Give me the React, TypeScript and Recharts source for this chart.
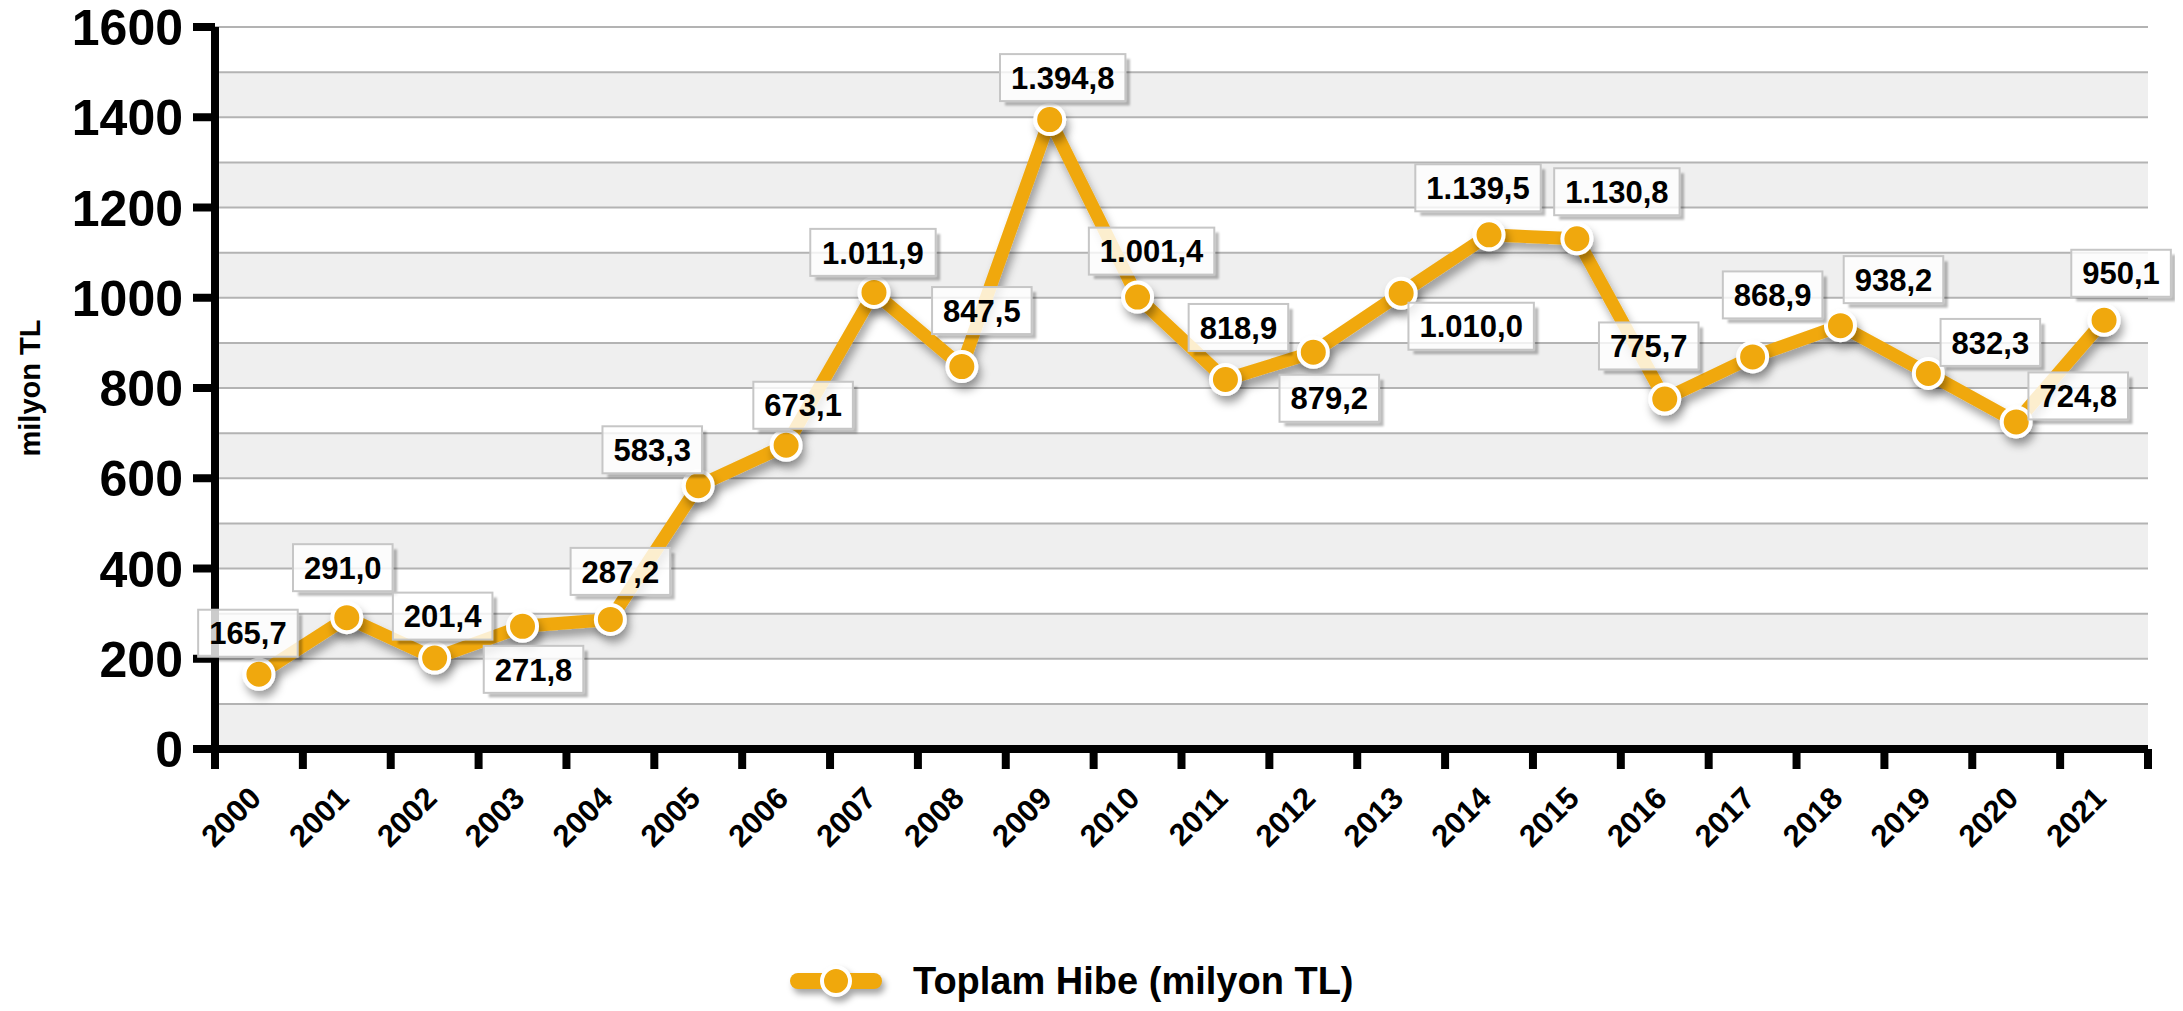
import React from 'react';
import { LineChart, Line, XAxis, YAxis, CartesianGrid, LabelList, Legend } from 'recharts';

const years = ['2000', '2001', '2002', '2003', '2004', '2005', '2006', '2007', '2008', '2009', '2010', '2011', '2012', '2013', '2014', '2015', '2016', '2017', '2018', '2019', '2020', '2021'];
const values = [165.7, 291.0, 201.4, 271.8, 287.2, 583.3, 673.1, 1011.9, 847.5, 1394.8, 1001.4, 818.9, 879.2, 1010.0, 1139.5, 1130.8, 775.7, 868.9, 938.2, 832.3, 724.8, 950.1];
const yTicks = [0, 100, 200, 300, 400, 500, 600, 700, 800, 900, 1000, 1100, 1200, 1300, 1400, 1500, 1600];
const yLabelledTicks = [0, 200, 400, 600, 800, 1000, 1200, 1400, 1600];
const seriesName = 'Toplam Hibe (milyon TL)';
const yAxisTitle = 'milyon TL';

// label box placement relative to its point (layout config, not data)
const labelOffsets: [number, number][] = [
  [-11, -41], [-4, -50], [8, -42], [11, 43], [10, -48], [-46, -36], [17, -40], [-1, -40],
  [20, -56], [13, -42], [14, -46], [13, -52], [16, 46], [70, 33], [-11, -47], [40, -47],
  [-16, -53], [20, -62], [53, -46], [62, -31], [62, -26], [17, -47],
];

const ORANGE = '#F0A80C';
const FONT = '"Liberation Sans", Arial, Helvetica, sans-serif';
const LABEL_SIZE = 31;

const data = years.map((y, i) => ({ year: y, pos: i + 0.5, value: values[i] }));
const boundaryTicks = [...years.map((_, i) => i), years.length];
const centerTicks = years.map((_, i) => i + 0.5);

function fmt(v: number): string {
  const [i, d] = v.toFixed(1).split('.');
  return i.replace(/\B(?=(\d{3})+(?!\d))/g, '.') + ',' + d;
}

function textWidth(s: string, size: number): number {
  let w = 0;
  for (const c of s) w += c === '.' || c === ',' ? 0.278 : 0.556;
  return w * size;
}

const EmptyTick = () => <g />;

const YearTick = (props: any) => {
  const { x, y, payload } = props;
  const ax = x + 4;
  const ay = y + 31;
  return (
    <text x={ax} y={ay} transform={`rotate(-45 ${ax} ${ay})`} textAnchor="end" fontSize={31} fontWeight="bold" fontFamily={FONT} fill="#000">
      {years[Math.floor(payload.value)]}
    </text>
  );
};

const YTick = (props: any) => {
  const { x, y, payload } = props;
  if (!yLabelledTicks.includes(payload.value)) return <g />;
  return (
    <g>
      <line x1={x - 22} x2={x} y1={y} y2={y} stroke="#000" strokeWidth={8} />
      <text x={x - 32} y={y} dy="0.36em" textAnchor="end" fontSize={50} fontWeight="bold" fontFamily={FONT} fill="#000">
        {payload.value}
      </text>
    </g>
  );
};

const DataLabel = (props: any) => {
  const { x, y, value, index } = props;
  if (x == null || y == null) return null;
  const [dx, dy] = labelOffsets[index] || [0, -45];
  const text = fmt(Number(value));
  const w = textWidth(text, LABEL_SIZE) + 22;
  const h = 47;
  const cx = x + dx;
  const cy = y + dy;
  const left = cx - w / 2;
  const top = cy - h / 2;
  return (
    <g>
      <polyline
        points={`${left + w + 2.5},${top + 5} ${left + w + 2.5},${top + h + 2.5} ${left + 5},${top + h + 2.5}`}
        fill="none" stroke="#000" strokeOpacity={0.28} strokeWidth={4} filter="url(#softBlur)"
      />
      <rect x={left} y={top} width={w} height={h} fill="#fff" fillOpacity={0.8} stroke="#c6c6c6" strokeWidth={2} />
      <text x={cx} y={cy} dy="0.36em" textAnchor="middle" fontSize={LABEL_SIZE} fontWeight="bold" fontFamily={FONT} fill="#000">
        {text}
      </text>
    </g>
  );
};

const LegendContent = () => (
  <div style={{ display: 'flex', alignItems: 'center', height: 60, paddingLeft: 790, fontFamily: FONT }}>
    <svg width={92} height={44} style={{ overflow: 'visible', filter: 'drop-shadow(3px 5px 3px rgba(0,0,0,0.35))' }}>
      <line x1={8} x2={84} y1={22} y2={22} stroke={ORANGE} strokeWidth={16} strokeLinecap="round" />
      <circle cx={46} cy={22} r={14} fill={ORANGE} stroke="#fff" strokeWidth={4} />
    </svg>
    <span style={{ marginLeft: 31, fontSize: 38, fontWeight: 'bold', color: '#000', lineHeight: 1 }}>{seriesName}</span>
  </div>
);

export default function App() {
  return (
    <div style={{ width: 2183, height: 1011, marginTop: -8, marginLeft: -8, fontFamily: FONT }}>
      <LineChart width={2183} height={1011} data={data} margin={{ top: 27, right: 35, left: 0, bottom: 0 }}>
        <defs>
          <filter id="lineShadow" filterUnits="userSpaceOnUse" x={0} y={0} width={2183} height={1011}>
            <feDropShadow dx={3} dy={7} stdDeviation={4} floodColor="#000" floodOpacity={0.35} />
          </filter>
          <filter id="softBlur" x="-20%" y="-20%" width="140%" height="140%">
            <feGaussianBlur stdDeviation={1.2} />
          </filter>
        </defs>
        <CartesianGrid
          xAxisId="a1"
          vertical={false}
          stroke="#b3b3b3"
          strokeWidth={2}
          horizontalFill={['#ffffff', '#efefef']}
          fillOpacity={1}
        />
        <XAxis
          xAxisId="b2"
          type="number"
          dataKey="pos"
          domain={[0, years.length]}
          ticks={centerTicks}
          interval={0}
          height={182}
          tickSize={0}
          tickMargin={0}
          tickLine={false}
          axisLine={false}
          tick={<YearTick />}
        />
        <XAxis
          xAxisId="a1"
          type="number"
          dataKey="pos"
          domain={[0, years.length]}
          ticks={boundaryTicks}
          interval={0}
          height={20}
          tickSize={20}
          tickLine={{ stroke: '#000', strokeWidth: 8 }}
          axisLine={{ stroke: '#000', strokeWidth: 8 }}
          tick={<EmptyTick />}
        />
        <YAxis
          domain={[0, 1600]}
          ticks={yTicks}
          interval={0}
          width={215}
          tickSize={0}
          tickMargin={0}
          tickLine={false}
          axisLine={{ stroke: '#000', strokeWidth: 8 }}
          tick={<YTick />}
          label={{
            value: yAxisTitle,
            content: (p: any) => {
              const vb = p.viewBox || { x: 0, y: 27, height: 722 };
              const cx = vb.x + 30;
              const cy = vb.y + vb.height / 2;
              return (
                <text x={cx} y={cy} transform={`rotate(-90 ${cx} ${cy})`} textAnchor="middle" dominantBaseline="central" fontSize={29} fontWeight="bold" fontFamily={FONT} fill="#000">
                  {yAxisTitle}
                </text>
              );
            },
          }}
        />
        <Legend verticalAlign="bottom" height={60} wrapperStyle={{ left: 0, width: 2183 }} content={<LegendContent />} />
        <Line
          xAxisId="a1"
          type="linear"
          dataKey="value"
          name={seriesName}
          stroke={ORANGE}
          strokeWidth={13}
          strokeLinejoin="round"
          filter="url(#lineShadow)"
          dot={{ r: 14.5, fill: ORANGE, stroke: '#fff', strokeWidth: 4, filter: 'url(#lineShadow)' } as any}
          activeDot={false}
          isAnimationActive={false}
        >
          <LabelList dataKey="value" content={<DataLabel />} />
        </Line>
      </LineChart>
    </div>
  );
}
